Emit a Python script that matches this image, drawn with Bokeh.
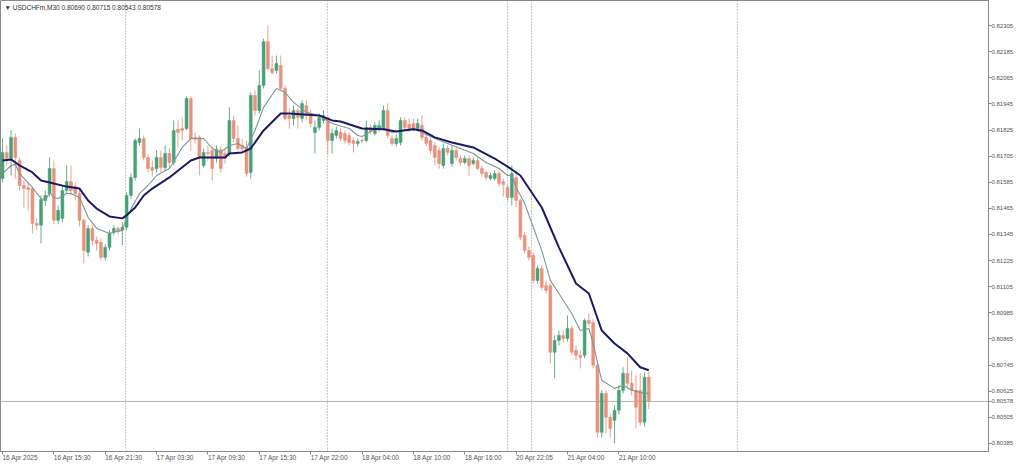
from bokeh.plotting import figure
from bokeh.models import ColumnDataSource, FixedTicker, PrintfTickFormatter, Span, Label
from bokeh.embed import file_html
from bokeh.resources import INLINE

symbol = "USDCHFm,M30"

opens = [
0.81602,0.81722,0.81694,0.81791,0.81685,0.81570,0.81561,0.81556,0.81396,0.81387,
0.81501,0.81533,0.81648,0.81410,0.81419,0.81547,0.81588,0.81565,0.81533,0.81410,
0.81263,0.81373,0.81318,0.81309,0.81240,0.81286,0.81355,0.81373,0.81364,0.81378,
0.81524,0.81607,0.81768,0.81786,0.81699,0.81653,0.81648,0.81699,0.81653,0.81717,
0.81676,0.81828,0.81832,0.81832,0.81970,0.81791,0.81791,0.81662,0.81722,0.81731,
0.81694,0.81736,0.81717,0.81717,0.81869,0.81786,0.81754,0.81745,0.81630,0.81984,
0.81915,0.82030,0.82231,0.82107,0.82098,0.82121,0.82016,0.81892,0.81878,0.81915,
0.81878,0.81938,0.81901,0.81814,0.81837,0.81869,0.81883,0.81777,0.81800,0.81814,
0.81809,0.81800,0.81777,0.81763,0.81777,0.81777,0.81837,0.81809,0.81832,0.81832,
0.81915,0.81786,0.81763,0.81768,0.81869,0.81851,0.81855,0.81832,0.81846,0.81791,
0.81777,0.81754,0.81731,0.81662,0.81740,0.81671,0.81731,0.81694,0.81676,0.81694,
0.81671,0.81685,0.81648,0.81630,0.81602,0.81602,0.81625,0.81588,0.81561,0.81515,
0.81607,0.81501,0.81341,0.81272,0.81249,0.81134,0.81189,0.81111,0.81111,0.80804,
0.80858,0.80881,0.80867,0.80913,0.80813,0.80790,0.80790,0.80950,0.80941,0.80744,
0.80436,0.80615,0.80505,0.80491,0.80537,0.80629,0.80707,0.80661,0.80629,0.80629,
0.80482,0.80690]

highs = [
0.81786,0.81754,0.81823,0.81809,0.81699,0.81593,0.81584,0.81565,0.81419,0.81524,
0.81547,0.81699,0.81685,0.81478,0.81570,0.81662,0.81662,0.81584,0.81547,0.81419,
0.81387,0.81387,0.81336,0.81327,0.81300,0.81364,0.81387,0.81382,0.81401,0.81538,
0.81625,0.81786,0.81832,0.81800,0.81713,0.81685,0.81731,0.81731,0.81754,0.81740,
0.81869,0.81869,0.81883,0.81979,0.81979,0.81814,0.81800,0.81740,0.81754,0.81749,
0.81754,0.81749,0.81740,0.81929,0.81892,0.81846,0.81786,0.81777,0.81998,0.82007,
0.82098,0.82245,0.82305,0.82167,0.82167,0.82167,0.82030,0.81924,0.81938,0.81924,
0.81961,0.81961,0.81915,0.81869,0.81901,0.81915,0.81892,0.81832,0.81841,0.81832,
0.81823,0.81814,0.81791,0.81786,0.81791,0.81869,0.81851,0.81860,0.81869,0.81938,
0.81947,0.81800,0.81805,0.81883,0.81883,0.81878,0.81878,0.81878,0.81892,0.81805,
0.81791,0.81768,0.81745,0.81763,0.81754,0.81754,0.81745,0.81708,0.81708,0.81708,
0.81699,0.81699,0.81662,0.81639,0.81630,0.81639,0.81639,0.81602,0.81575,0.81662,
0.81639,0.81510,0.81355,0.81290,0.81263,0.81203,0.81203,0.81134,0.81120,0.80881,
0.80904,0.80904,0.80973,0.80927,0.80835,0.80813,0.80959,0.80982,0.80959,0.80758,
0.80629,0.80629,0.80523,0.80560,0.80652,0.80735,0.80781,0.80721,0.80698,0.80707,
0.80712,0.80715]

lows = [
0.81584,0.81662,0.81616,0.81602,0.81547,0.81469,0.81456,0.81350,0.81364,0.81304,
0.81478,0.81519,0.81392,0.81392,0.81401,0.81533,0.81524,0.81501,0.81382,0.81212,
0.81244,0.81295,0.81272,0.81226,0.81226,0.81272,0.81341,0.81346,0.81295,0.81364,
0.81510,0.81593,0.81754,0.81685,0.81630,0.81611,0.81630,0.81630,0.81639,0.81648,
0.81662,0.81745,0.81777,0.81823,0.81731,0.81763,0.81616,0.81653,0.81685,0.81593,
0.81676,0.81630,0.81671,0.81703,0.81768,0.81731,0.81722,0.81611,0.81602,0.81892,
0.81901,0.82016,0.82098,0.82080,0.82084,0.82007,0.81869,0.81832,0.81846,0.81832,
0.81860,0.81869,0.81837,0.81717,0.81823,0.81855,0.81717,0.81717,0.81786,0.81772,
0.81763,0.81754,0.81722,0.81749,0.81763,0.81768,0.81805,0.81800,0.81818,0.81823,
0.81786,0.81754,0.81749,0.81754,0.81823,0.81818,0.81818,0.81818,0.81777,0.81749,
0.81717,0.81662,0.81648,0.81648,0.81708,0.81657,0.81685,0.81662,0.81667,0.81616,
0.81662,0.81639,0.81611,0.81593,0.81593,0.81593,0.81565,0.81519,0.81501,0.81478,
0.81469,0.81318,0.81258,0.81226,0.81120,0.81120,0.81088,0.81074,0.80753,0.80684,
0.80835,0.80849,0.80853,0.80790,0.80767,0.80730,0.80776,0.80922,0.80730,0.80413,
0.80413,0.80431,0.80413,0.80385,0.80519,0.80615,0.80638,0.80606,0.80454,0.80468,
0.80463,0.80543]

closes = [
0.81722,0.81694,0.81791,0.81699,0.81570,0.81556,0.81552,0.81396,0.81387,0.81506,
0.81524,0.81648,0.81410,0.81456,0.81547,0.81588,0.81547,0.81533,0.81410,0.81272,
0.81373,0.81318,0.81304,0.81240,0.81286,0.81350,0.81373,0.81359,0.81378,0.81524,
0.81607,0.81777,0.81786,0.81699,0.81648,0.81639,0.81699,0.81653,0.81717,0.81676,
0.81823,0.81814,0.81823,0.81970,0.81786,0.81782,0.81699,0.81722,0.81717,0.81648,
0.81736,0.81648,0.81694,0.81869,0.81786,0.81740,0.81740,0.81625,0.81984,0.81915,
0.82030,0.82231,0.82107,0.82089,0.82130,0.82016,0.81878,0.81878,0.81915,0.81883,
0.81947,0.81892,0.81855,0.81837,0.81883,0.81892,0.81777,0.81809,0.81823,0.81786,
0.81777,0.81768,0.81763,0.81772,0.81775,0.81837,0.81818,0.81846,0.81846,0.81915,
0.81800,0.81763,0.81786,0.81869,0.81837,0.81832,0.81832,0.81855,0.81791,0.81763,
0.81731,0.81699,0.81671,0.81740,0.81722,0.81731,0.81699,0.81676,0.81694,0.81662,
0.81685,0.81648,0.81625,0.81607,0.81616,0.81625,0.81579,0.81575,0.81515,0.81625,
0.81501,0.81332,0.81272,0.81240,0.81134,0.81189,0.81102,0.81088,0.80804,0.80858,
0.80881,0.80867,0.80913,0.80804,0.80790,0.80781,0.80950,0.80936,0.80744,0.80436,
0.80615,0.80505,0.80454,0.80537,0.80629,0.80707,0.80661,0.80629,0.80551,0.80482,
0.80689,0.80578]

# moving averages (bar index, value)
slow_idx = [0,2,4,7,9,11,15,18,20,22,25,28,29,31,33,35,39,44,46,52,53,56,58,61,65,
            67,74,77,79,84,89,92,96,98,101,105,110,115,118,121,126,130,134,137,140,143,146,149,151]
slow_val = [0.81685,0.81690,0.81662,0.81630,0.81593,0.81584,0.81565,0.81556,0.81501,0.81464,
            0.81428,0.81419,0.81433,0.81469,0.81524,0.81556,0.81607,0.81685,0.81699,0.81699,
            0.81717,0.81722,0.81740,0.81823,0.81901,0.81901,0.81892,0.81869,0.81864,0.81832,
            0.81828,0.81818,0.81828,0.81823,0.81791,0.81768,0.81745,0.81694,0.81657,0.81616,
            0.81469,0.81286,0.81120,0.81074,0.80904,0.80844,0.80799,0.80735,0.80721]
fast_idx = [0,2,3,4,7,9,10,11,12,13,15,16,18,20,22,25,26,28,29,32,34,36,39,42,44,
            47,49,51,53,55,57,59,61,64,66,68,71,74,77,81,83,84,87,89,91,93,96,98,101,104,
            107,110,113,116,118,119,120,122,124,126,128,130,133,135,137,138,140,143,145,147,150,151]
fast_val = [0.81625,0.81662,0.81667,0.81625,0.81561,0.81510,0.81501,0.81538,0.81515,0.81510,
            0.81533,0.81533,0.81515,0.81424,0.81373,0.81350,0.81355,0.81364,0.81424,0.81533,
            0.81570,0.81616,0.81648,0.81745,0.81786,0.81786,0.81740,0.81722,0.81754,0.81763,
            0.81740,0.81823,0.81929,0.82016,0.81998,0.81952,0.81906,0.81892,0.81855,0.81832,
            0.81800,0.81795,0.81828,0.81837,0.81814,0.81823,0.81832,0.81814,0.81786,0.81763,
            0.81740,0.81717,0.81676,0.81648,0.81616,0.81616,0.81561,0.81488,0.81378,0.81272,
            0.81134,0.81074,0.80982,0.80904,0.80913,0.80844,0.80675,0.80638,0.80652,0.80629,
            0.80615,0.80615]

# axis ticks
x_tick_idx = [0, 12, 24, 36, 48, 60, 72, 84, 96, 108, 120, 132, 144]
x_tick_labels = ["16 Apr 2025", "16 Apr 15:30", "16 Apr 21:30", "17 Apr 03:30", "17 Apr 09:30",
                 "17 Apr 15:30", "17 Apr 22:00", "18 Apr 04:00", "18 Apr 10:00", "18 Apr 16:00",
                 "20 Apr 22:05", "21 Apr 04:00", "21 Apr 10:00"]
y_ticks = [0.82305, 0.82185, 0.82065, 0.81945, 0.81825, 0.81705, 0.81585, 0.81465, 0.81345,
           0.81225, 0.81105, 0.80985, 0.80865, 0.80745, 0.80625, 0.80505, 0.80385]
day_separators = [28.8, 75.9, 118.0, 123.6, 171.7]

BULL = "#47a077"
BEAR = "#e8917c"
FONT = "Liberation Sans"

n = len(closes)
idx = list(range(n))
colors = [BULL if c >= o else BEAR for o, c in zip(opens, closes)]
src = ColumnDataSource(dict(
    i=idx, open=opens, high=highs, low=lows, close=closes,
    top=[max(o, c) for o, c in zip(opens, closes)],
    bottom=[min(o, c) for o, c in zip(opens, closes)],
    color=colors))

p = figure(width=1024, height=467, output_backend="svg", toolbar_location=None,
           x_range=(-0.467, 230.37), y_range=(0.80348, 0.82420),
           y_axis_location="right", min_border_left=0, min_border_top=0,
           min_border_right=36, min_border_bottom=0)
p.grid.visible = False
p.outline_line_color = "#8a8a8a"
p.background_fill_color = "white"
p.border_fill_color = "white"

for s in day_separators:
    p.add_layout(Span(location=s, dimension="height", line_color="#8c8c8c",
                      line_dash="1 2", line_width=1, level="underlay"))
p.add_layout(Span(location=closes[-1], dimension="width", line_color="#b4b4b4",
                  line_width=1, level="underlay"))

p.segment(x0="i", y0="high", x1="i", y1="low", line_color="color", line_width=1,
          line_alpha=0.85, source=src)
p.vbar(x="i", width=0.68, top="top", bottom="bottom", fill_color="color",
       line_color="color", line_width=0.5, source=src)

p.line(fast_idx, fast_val, line_color="#7d9797", line_width=1.1)
p.line(slow_idx, slow_val, line_color="#1c1a66", line_width=2)

# axes
yax = p.yaxis[0]
yax.ticker = FixedTicker(ticks=y_ticks + [closes[-1]])
yax.formatter = PrintfTickFormatter(format="%.5f")
yax.major_label_text_font = FONT
yax.major_label_text_font_size = "6px"
yax.major_label_text_color = "#555555"
yax.major_tick_out = 3
yax.major_tick_in = 0
yax.minor_tick_out = 0
yax.minor_tick_in = 0
yax.major_label_standoff = 0
yax.axis_line_color = "#8a8a8a"
yax.major_tick_line_color = "#8a8a8a"

xax = p.xaxis[0]
xax.ticker = FixedTicker(ticks=x_tick_idx)
xax.major_label_overrides = {i: l for i, l in zip(x_tick_idx, x_tick_labels)}
xax.major_label_text_font = FONT
xax.major_label_text_font_size = "6.5px"
xax.major_label_text_color = "#555555"
xax.major_label_orientation = -0.0001   # labels start at their tick, as in MT
xax.major_tick_out = 3
xax.major_tick_in = 0
xax.minor_tick_out = 0
xax.minor_tick_in = 0
xax.major_label_standoff = 3
xax.axis_line_color = "#8a8a8a"
xax.major_tick_line_color = "#8a8a8a"

title = "\u25bc " + symbol + "  " + " ".join(
    f"{v:.5f}" for v in (opens[-1], highs[-1], lows[-1], closes[-1]))
p.add_layout(Label(x=-0.467, y=0.82420, x_offset=4, y_offset=-3, text=title,
                   text_font=FONT, text_font_size="6.5px", text_color="#333333",
                   text_baseline="top", text_align="left"))

open("out.html", "w").write(file_html(p, INLINE))
